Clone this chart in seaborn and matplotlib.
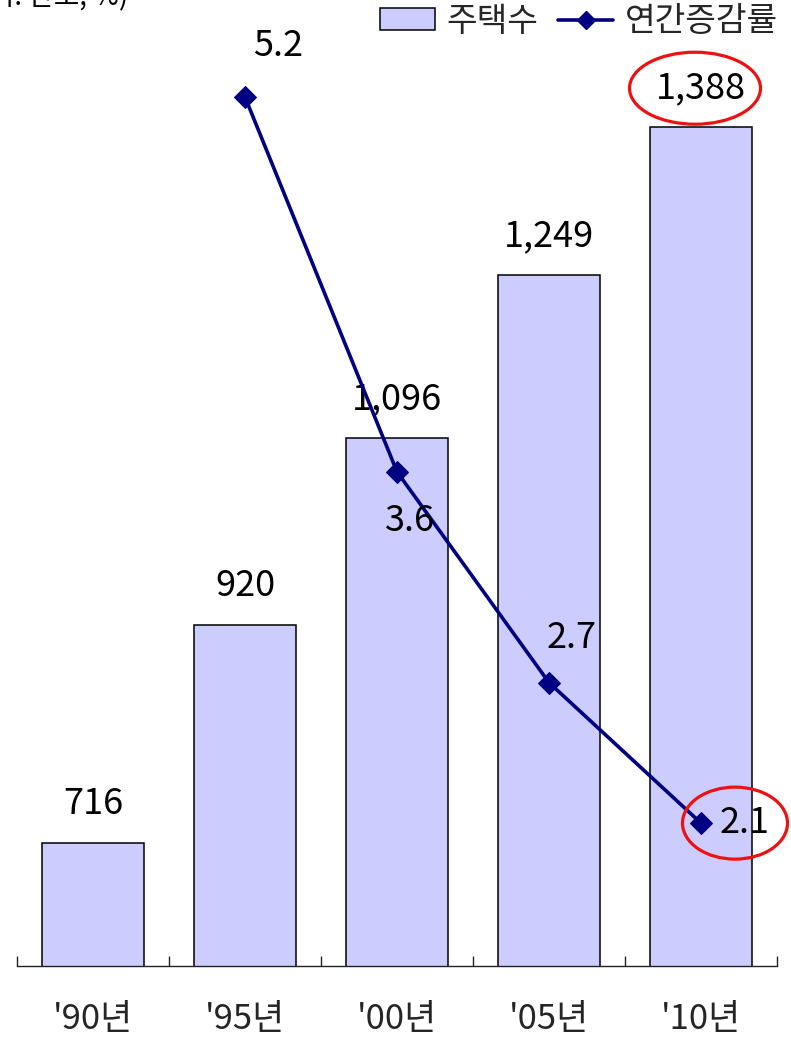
import numpy as np
import pandas as pd
import matplotlib
matplotlib.use("Agg")
import matplotlib.pyplot as plt
from matplotlib.patches import Ellipse, Patch
from matplotlib.lines import Line2D
from matplotlib.transforms import IdentityTransform
import seaborn as sns

# 주택수 (만호) and 연간증감률 (%)
years = ["'90년", "'95년", "'00년", "'05년", "'10년"]
houses = [716, 920, 1096, 1249, 1388]
growth_years = ["'95년", "'00년", "'05년", "'10년"]
growth = [5.2, 3.6, 2.7, 2.1]

BAR_COLOR = "#CCCCFF"
LINE_COLOR = "#000080"

sns.set_theme(style="white")
plt.rcParams["font.family"] = ["Noto Sans CJK KR", "DejaVu Sans"]

W, H = 791, 1038
fig = plt.figure(figsize=(W / 100, H / 100), dpi=100)
rect = [17 / W, 72 / H, 760 / W, 958 / H]
ax = fig.add_axes(rect)

df = pd.DataFrame({"year": years, "houses": houses})
sns.barplot(data=df, x="year", y="houses", ax=ax, color=BAR_COLOR,
            saturation=1, width=0.67, edgecolor="black", linewidth=1.1)
ax.set_xlim(-0.5, len(years) - 0.5)
ax.set_ylim(600, 1500)
ax.set_xlabel("")
ax.set_ylabel("")
ax.set_yticks([])
for s in ("left", "right", "top"):
    ax.spines[s].set_visible(False)
ax.spines["bottom"].set_color("#222222")
ax.spines["bottom"].set_linewidth(1.0)
ax.set_xticks(range(len(years)))
ax.set_xticklabels(years, fontsize=25)
ax.set_xticks(np.arange(len(years) + 1) - 0.5, minor=True)
ax.tick_params(axis="x", which="major", length=0, pad=26, bottom=True)
ax.tick_params(axis="x", which="minor", direction="in", length=7.5,
               width=1.0, color="#222222", bottom=True)

# bar value labels
for i, v in enumerate(houses):
    ax.annotate(f"{v:,}", (i, v), xytext=(0, 39), textcoords="offset pixels",
                ha="center", va="center", fontsize=26, color="black")

# growth rate line on its own scale
ax2 = fig.add_axes(rect)
ax2.patch.set_visible(False)
gx = [years.index(y) for y in growth_years]
sns.lineplot(x=gx, y=growth, ax=ax2, color=LINE_COLOR, marker="D",
             markersize=11, linewidth=2.6, markeredgecolor=LINE_COLOR)
ax2.set_xlim(-0.5, len(years) - 0.5)
ax2.set_ylim(1.49, 5.58)
ax2.axis("off")

label_offsets = [(33, 51), (13, -49), (23, 45), (44, 0)]
for x, v, (dx, dy) in zip(gx, growth, label_offsets):
    ax2.annotate(f"{v}", (x, v), xytext=(dx, dy), textcoords="offset pixels",
                 ha="center", va="center", fontsize=26, color="black")

# red highlight ellipses
fig.canvas.draw()
cx, cy = ax.transData.transform((4, houses[-1]))
fig.add_artist(Ellipse((cx - 6, cy + 39), 131, 72, transform=IdentityTransform(),
                       fill=False, edgecolor="#EE1111", linewidth=2.3))
mx, my = ax2.transData.transform((gx[-1], growth[-1]))
fig.add_artist(Ellipse((mx + 34, my), 105, 72, transform=IdentityTransform(),
                       fill=False, edgecolor="#EE1111", linewidth=2.3))

# unit note
fig.text(128 / W, 1 - 5 / H, "(단위: 만호, %)", ha="right", va="baseline",
         fontsize=20, color="black")

handles = [Patch(facecolor=BAR_COLOR, edgecolor="black", linewidth=1.1),
           Line2D([], [], color=LINE_COLOR, marker="D", markersize=9, linewidth=2.6)]
fig.legend(handles, ["주택수", "연간증감률"], loc="upper right",
           bbox_to_anchor=(778 / W, 1 - 4 / H), ncol=2, frameon=False,
           fontsize=24, handlelength=1.65, handleheight=0.65, handletextpad=0.35,
           columnspacing=0.6, borderpad=0, borderaxespad=0)

fig.savefig("out.png", dpi=100)
